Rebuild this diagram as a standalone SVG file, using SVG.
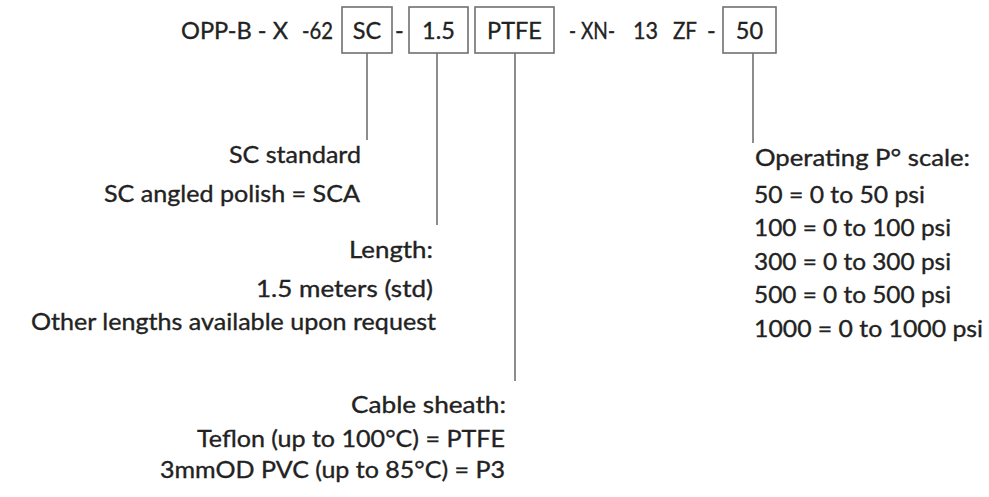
<svg xmlns="http://www.w3.org/2000/svg" width="989" height="497" viewBox="0 0 989 497">
<style>
text{font-family:Lato,"Noto Sans","Liberation Sans",sans-serif;font-size:23.5px;fill:#222;stroke:#222;stroke-width:0.35}
.box{fill:#fff;stroke:#707070;stroke-width:1.6}
.conn line{stroke:#707070;stroke-width:1.6}
.c{text-anchor:middle}
.e{text-anchor:end}
</style>
<rect width="989" height="497" fill="#fff"/>
<g id="code">
<text x="181" y="38.5" textLength="107" lengthAdjust="spacingAndGlyphs">OPP-B - X</text>
<text x="302" y="38.5" textLength="31" lengthAdjust="spacingAndGlyphs">-62</text>
<text x="395" y="38.5">-</text>
<text x="569" y="38.5" textLength="46" lengthAdjust="spacingAndGlyphs">- XN-</text>
<text x="633" y="38.5" textLength="25" lengthAdjust="spacingAndGlyphs">13</text>
<text x="673" y="38.5" textLength="24" lengthAdjust="spacingAndGlyphs">ZF</text>
<text x="707" y="38.5">-</text>
</g>
<g id="box-sc"><rect class="box" x="342" y="7" width="50" height="46"/><text x="367" y="38.5" class="c">SC</text></g>
<g id="box-len"><rect class="box" x="409" y="7" width="59" height="46"/><text x="438.5" y="38.5" class="c">1.5</text></g>
<g id="box-ptfe"><rect class="box" x="475" y="7" width="79" height="46"/><text x="514.5" y="38.5" class="c">PTFE</text></g>
<g id="box-50"><rect class="box" x="723" y="7" width="53" height="46"/><text x="749.5" y="38.5" class="c">50</text></g>
<g class="conn" id="connectors">
<line x1="367" y1="53" x2="367" y2="140"/>
<line x1="437" y1="53" x2="437" y2="225"/>
<line x1="515" y1="53" x2="515" y2="381"/>
<line x1="753" y1="53" x2="753" y2="143"/>
</g>
<g id="note-sc">
<text x="229" y="163" textLength="132" lengthAdjust="spacingAndGlyphs">SC standard</text>
<text x="104" y="201.5" textLength="256" lengthAdjust="spacingAndGlyphs">SC angled polish = SCA</text>
</g>
<g id="note-length">
<text x="349" y="258" textLength="84" lengthAdjust="spacingAndGlyphs">Length:</text>
<text x="256" y="297" textLength="177" lengthAdjust="spacingAndGlyphs">1.5 meters (std)</text>
<text x="31" y="330" textLength="405" lengthAdjust="spacingAndGlyphs">Other lengths available upon request</text>
</g>
<g id="note-sheath">
<text x="351" y="413" textLength="155" lengthAdjust="spacingAndGlyphs">Cable sheath:</text>
<text x="197" y="446.5" textLength="308" lengthAdjust="spacingAndGlyphs">Teflon (up to 100°C) = PTFE</text>
<text x="160" y="478" textLength="345" lengthAdjust="spacingAndGlyphs">3mmOD PVC (up to 85°C) = P3</text>
</g>
<g id="note-pressure">
<text x="755" y="166" textLength="215" lengthAdjust="spacingAndGlyphs">Operating P° scale:</text>
<text x="754" y="203" textLength="171" lengthAdjust="spacingAndGlyphs">50 = 0 to 50 psi</text>
<text x="754" y="236" textLength="197" lengthAdjust="spacingAndGlyphs">100 = 0 to 100 psi</text>
<text x="754" y="269.5" textLength="197" lengthAdjust="spacingAndGlyphs">300 = 0 to 300 psi</text>
<text x="754" y="303" textLength="197" lengthAdjust="spacingAndGlyphs">500 = 0 to 500 psi</text>
<text x="754" y="336.5" textLength="229" lengthAdjust="spacingAndGlyphs">1000 = 0 to 1000 psi</text>
</g>
</svg>
